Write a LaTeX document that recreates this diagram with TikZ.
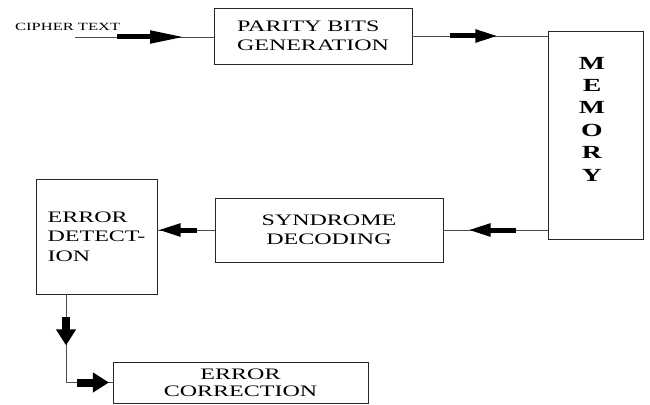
\documentclass[tikz,border=0pt]{standalone}
\usepackage{fontspec}
\setmainfont{Liberation Serif}[FakeStretch=1.5]
\usetikzlibrary{arrows.meta,decorations.markings,calc}

\tikzset{
  box/.style={draw=black!85, line width=0.8pt, inner sep=0pt, font=\fontsize{16}{19.5}\selectfont},
  wire/.style={draw=black!70, line width=0.8pt},
  fat/.style={draw=black, fill=black, line width=5pt, -{Triangle[length=#1,width=12pt]}},
  fat/.default=23pt,
  fatter/.style={draw=black, fill=black, line width=8pt, -{Triangle[length=16pt,width=19pt]}},
  fatat/.style n args={3}{postaction={decorate, decoration={markings,
      mark=at position #1 with {\draw[#3] (-#2,0) -- (0,0);}}}},
}

\begin{document}
\begin{tikzpicture}[x=1pt,y=-1pt]
\useasboundingbox (0,0) rectangle (650,404);

% blocks
\node[box, align=left, minimum width=198pt, minimum height=56pt] (parity) at (313,36) {PARITY BITS\\GENERATION};
\node[box, minimum width=95pt, minimum height=208pt] (memory) at (595.5,135) {};
\node[align=center, inner sep=0pt, font=\fontsize{18.5}{22.4}\selectfont\bfseries] (memtext) at (592,119) {M\\E\\M\\O\\R\\Y};
\node[box, align=center, minimum width=255pt, minimum height=41pt, font=\fontsize{16}{17}\selectfont] (correct) at (240.5,382.5) {ERROR\\CORRECTION};
\node[box, align=center, minimum width=228pt, minimum height=64pt] (syndrome) at (329,230) {SYNDROME\\DECODING};
\node[box, align=left, minimum width=121pt, minimum height=115pt] (detect) at (96.5,236.5) {ERROR\\DETECT-\\ION};

\node[anchor=base west, inner sep=0pt, font=\fontsize{11}{13}\selectfont] (cipher) at (15,31) {CIPHER TEXT};
\coordinate (in) at (75,37);
\coordinate (down) at ($(detect.south west)!0.25!(detect.south east)$);

% connectors
\draw[wire, fatat={110pt}{68pt}{fat=35pt}] (in) -- (in -| parity.west);
\draw[wire, fatat={86pt}{48pt}{fat}] (parity.east) -- (parity.east -| memory.west);
\draw[wire, fatat={80pt}{48pt}{fat}] (syndrome.east -| memory.west) -- (syndrome.east);
\draw[wire, fatat={57pt}{39pt}{fat}] (syndrome.west) -- (syndrome.west -| detect.east);
\draw[wire, fatat={51pt}{28pt}{fatter}, fatat={131pt}{32pt}{fatter}] (down) |- (correct.west);
\end{tikzpicture}
\end{document}
